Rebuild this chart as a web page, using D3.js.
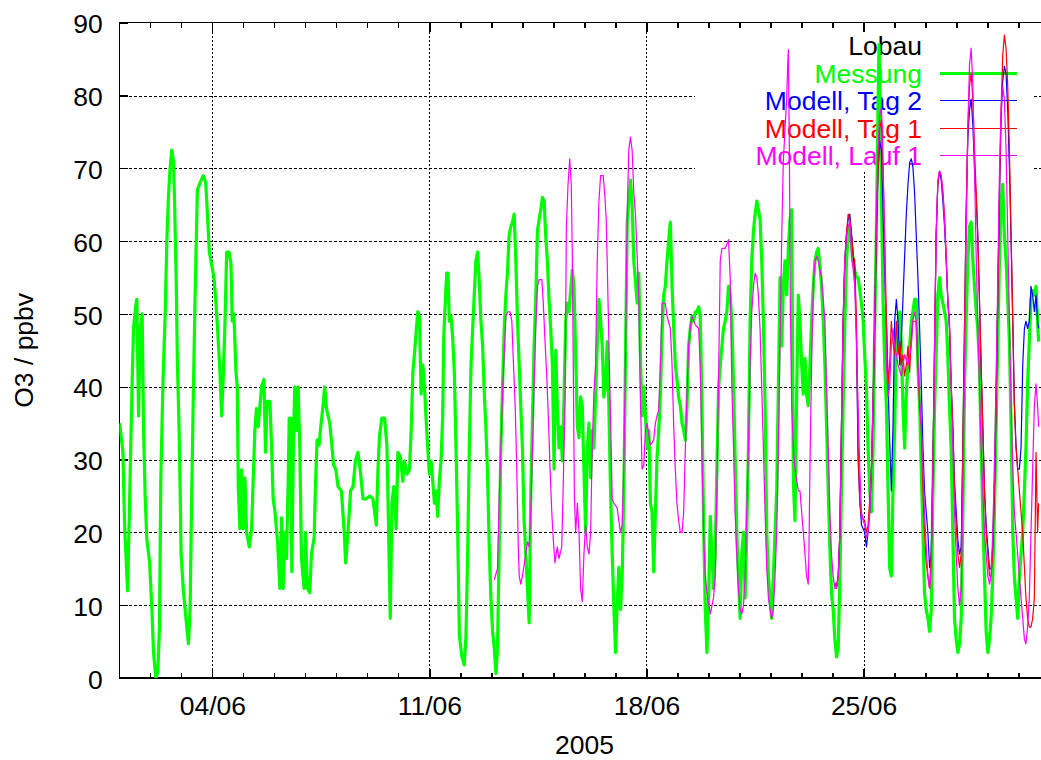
<!DOCTYPE html>
<html>
<head>
<meta charset="utf-8">
<script src="https://cdn.jsdelivr.net/npm/d3@7"></script>
<style>
  html, body { margin: 0; padding: 0; background: #fff; }
  svg { display: block; }
  text { font-family: "Liberation Sans", Arial, Helvetica, sans-serif; font-size: 26.5px; fill: #000; }
</style>
</head>
<body>
<svg id="chart" width="1041" height="760"></svg>
<script>
// Ozone at Lobau, June 2005: measurement vs. model runs (hourly values, ppbv)
const startDate = "2005-06-01";
const endDate = "2005-07-01";
const majorTickDates = ["2005-06-04", "2005-06-11", "2005-06-18", "2005-06-25"];
const yTickValues = [0, 10, 20, 30, 40, 50, 60, 70, 80, 90];
const xAxisTitle = "2005";
const yAxisTitle = "O3 / ppbv";
const keyTitle = "Lobau";
const seriesNames = ["Messung", "Modell, Tag 2", "Modell, Tag 1", "Modell, Lauf 1"];
const seriesColors = ["#00ff00", "#0000ff", "#ff0000", "#ff00ff"];

// [hours since 01/06 00:00, O3 in ppbv]
const messung = [
[0.3,35],[2.8,31],[4.1,21],[6.4,12],[7.7,22],[9,33],[10,41],[11,48],[12.6,51],[13.6,52],[14.9,36],[16.2,48],[17.7,50],[18.8,34],[20,25],[21.3,19],[23.4,16],[25.2,9.5],[26.5,3.5],[28.3,0],[29.8,0.8],[31.1,7],[32.1,27],[33.7,40],[35.5,50],[36.8,60],[38,66],[39.3,70],[40.6,72.5],[41.9,71],[42.7,66],[44,55],[45,43],[46.3,34],[47.1,26],[47.8,17],[49.6,12],[51.7,8],[53.5,4.7],[54.8,9.4],[56.1,26],[57.4,40],[58.6,52],[60.4,67],[62.5,68],[65,69],[66.9,68],[68.1,64],[69.7,58.5],[71.5,56.7],[73.3,55],[74.8,51.5],[75.9,48.5],[77.9,42],[79.2,36],[80.5,41.5],[81.8,49],[83.1,58.5],[84.9,58.5],[86.4,57],[87.4,49],[88.7,50],[90.3,42],[91.3,40],[92.1,26],[93.4,20.5],[94.6,28.6],[95.9,20.5],[97.2,27.5],[98.5,20],[100.6,18],[102.4,20.5],[103.6,27],[104.9,34],[106.2,37],[107.5,34.5],[110.1,40],[111.9,41],[113.2,31],[114.4,38],[116.6,38],[117.8,32],
[119.1,24.5],[120.4,23],[122.5,18.7],[124.3,12.3],[125.6,22],[126.8,12.3],[128.1,20],[129.4,16.4],[130.7,27],[131.5,35.7],[132.8,35.7],[133.5,14.6],[134.8,33],[135.8,40],[137.1,34],[138.4,40],[139.7,31.6],[141,16.4],[143,12.3],[144.1,20],[145.6,12.3],[147.4,11.7],[148.7,17],[150.8,19.3],[151.8,26.3],[153.1,32.7],[154.6,32],[155.9,34.5],[157.7,37.4],[159,40],[160.3,37],[162.9,35],[164.1,32.7],[165.9,29.2],[167.5,28.7],[169.3,26.3],[171.9,25.7],[173.9,20.5],[175.2,15.8],[177,20],[179,25.7],[180.9,26.3],[182.7,29.8],[184.7,31],[186.8,28],[188.6,24.6],[191.1,24.6],[193.7,25],[196.3,24.6],[198.9,21],[200.2,28.7],[201.4,33.3],[203.2,35.7],[205.3,35.7],[207.1,32],[208.4,20.5],[209.7,8.2],[211,24],[212.5,26.3],[214.3,20.5],[215.6,31],[217.6,30.4],[219.4,27],[220.7,29.8],[222.8,28],[224.6,28.7],[225.9,34],[227.2,42],[228.4,44.4],[229.7,47.4],[231,50.3],[232.3,49.7],[233.6,39],[234.9,43],
[236.2,40],[237.4,35.7],[238.7,31.6],[240,28],[241.3,29.8],[242.6,27],[243.9,24],[245.2,25.7],[246.4,22.2],[247.7,27],[249,29.8],[250.3,36],[251.1,46.8],[252.4,52],[253.4,55.6],[254.4,55.6],[255.4,49],[256.7,49.7],[258,46.8],[259.3,42],[260.6,31.6],[261.9,20],[263.2,5.8],[265.2,2.9],[267,1.8],[268.3,5.8],[269.6,17],[270.9,31.6],[272.2,43],[273.5,48],[274.7,52.6],[276,57.3],[277.3,58.5],[278.6,54.4],[279.9,49],[281.2,45.6],[282.5,39],[283.7,34.5],[285,28],[286.3,18.1],[287.6,11],[288.9,6.4],[290.2,4.1],[291.5,0.6],[292.7,4.1],[294,17.5],[295.3,31.6],[296.6,40],[297.9,48],[299.2,52.6],[300.5,56],[301.7,60.8],[303,62],[304.3,62.6],[305.6,63.7],[306.9,57.3],[308.2,49],[309.5,43],[310.7,37.4],[312,31.6],[313.3,21.6],[314.6,17],[315.9,12.3],[317.2,7.6],[318.5,25.7],[319.8,35.7],[321,45.6],[322.3,52],[323.6,61.4],[324.9,63],[326.2,64.3],[327.5,66],[328.8,65.5],[330,60.8],[331.3,57.3],[332.6,52],[333.9,48],[335.2,43],[336.5,28.7],[337.8,45],[339,37.4],[340.3,31.6],[341.6,34.5],[342.9,29.8],[344.2,38.6],[345.5,49],[346.8,51.5],[348,50.3],[349.3,53.2],[350.6,56],[351.9,53.8],[353.2,44.4],[354.5,34.5],
[355.8,33],[357,38.6],[358.3,37.4],[359.6,28.7],[360.9,20],[362.2,31.6],[363.5,35],[364.8,27.5],[366,34],[367.3,31.6],[368.6,38.6],[369.9,45.6],[371.2,52],[372.5,49],[373.8,45.6],[375,38.6],[376.3,40],[377.6,46.2],[378.9,37.4],[380.2,25.7],[381.5,17],[382.8,9.4],[384.1,3.5],[385.3,10],[386.6,15.2],[387.9,9.4],[389.2,14],[390.5,25.7],[391.8,44.4],[393.1,62.6],[394.3,65.5],[395.6,68.4],[396.9,65],[398.2,57.3],[399.5,54.4],[400.8,51.5],[402.1,55.6],[403.3,44.4],[404.6,36],[405.9,40],[407.2,36],[408.5,31.6],[409.8,34],[411.1,24],[412.3,22.8],[413.6,14.6],[414.9,22.8],[416.2,30.4],[417.5,34],[418.8,39],[420.1,47.4],[421.3,52.6],[422.6,53.8],[423.9,57.3],[425.2,60.2],[426.5,62.6],[427.8,53.8],[429.1,48],[430.3,43],[431.6,41],[432.9,38.6],[434.2,37.4],[435.5,35],[436.8,34],[438.1,32.7],[439.4,37.4],[440.6,45.6],[441.9,48],[443.2,49.7],[444.5,49],[445.8,50.3],[447.1,50.3],[448.4,51],[449.6,49.7],[450.9,38.6],[452.2,21.6],[453.5,9.4],[454.8,3.5],[456.1,11],[457.4,22.2],[458.6,17],[459.9,12.3],[461.2,17],[462.5,28.7],[463.8,39.8],[465.1,43],[466.4,45.6],[467.6,48],[468.9,49],[470.2,50.3],[471.5,53.8],[472.8,52.6],
[474.1,49],[475.4,40],[476.6,30.4],[477.9,20],[479.2,14],[480.5,8.2],[481.8,17],[483.1,20],[484.4,11],[485.6,20],[486.9,31.6],[488.2,49],[489.5,57.3],[490.8,61.4],[492.1,63.7],[493.4,65.5],[494.6,64.3],[495.9,63],[497.2,57.3],[498.5,49],[499.8,37.4],[501.1,20],[502.4,14],[503.7,10.5],[504.9,8.2],[506.2,14],[507.5,20],[508.8,25.7],[510.1,40],[511.4,55],[512.7,45.6],[513.9,53.8],[515.2,57.3],[516.5,52.6],[517.8,59],[519.1,63],[520.4,64.3],[521.7,27],[522.9,21.6],[524.2,38.6],[525.5,52.6],[526.8,49],[528.1,43],[529.4,39],[530.7,43.9],[531.9,39],[533.2,37.4],[534.5,43],[535.8,49],[537.1,53.8],[538.4,57.3],[539.7,58.5],[540.9,59],[542.2,56.7],[543.5,53.8],[544.8,49],[546.1,43],[547.4,34.5],[548.7,25.7],[549.9,18],[551.2,11.7],[552.5,9.4],[553.8,5.3],[555.1,2.9],[556.4,4.1],[557.7,14],[558.9,25.7],[560.2,37.4],[561.5,49],[562.8,57.3],[564.1,60.8],[565.4,62],[566.7,59.6],[568,57.3],[569.2,56],[570.5,55],[571.8,55],
[574.4,51.5],[575.7,49],[576.9,44.4],[578.2,40],[579.5,31.6],[580.8,25.7],[582.1,22.8],[583.4,31.6],[584.7,49],[585.9,60.8],[587.2,78.4],[588,87],[588.8,78.4],[589.8,66.7],[591.1,52],[592.4,43],[593.7,37.4],[595,25.7],[596.2,15.2],[597.5,14],[598.8,25.7],[600.1,34.5],[601.4,46.2],[602.7,49],[604,50.3],[605.2,45.6],[606.5,37.4],[607.8,31.6],[609.1,39],[610.4,43],[611.7,45.6],[613,49],[614.2,50.3],[615.5,52],[616.8,52],[618.1,43],[619.4,37.4],[620.7,28.7],[622,20],[623.2,11.7],[624.5,9.4],[625.8,8.2],[627.1,6.4],[628.4,9.4],[629.7,25.7],[631,37.4],[632.2,44.4],[633.5,52.6],[634.8,55],[636.1,52.6],[637.4,51.5],[638.7,50.3],[640,49],[641.2,44.4],[642.5,37.4],[643.8,31.6],[645.1,20],
[646.4,8.2],[647.7,5.3],[649,3.5],[650.3,4.7],[651.6,8.2],[652.9,22.8],[654.2,40.4],[655.4,49],[656.7,57.3],[658,62],[659.3,62.6],[660.6,57.3],[661.9,53.8],[663.2,50.3],[664.4,48],[665.7,43],[667,31.6],[668.3,22.8],[669.6,14],[670.9,6.4],[672.2,3.5],[673.5,5.3],[674.7,8.2],[676,14],[677.3,22.8],[678.6,34.5],[679.9,46.2],[681.2,57.3],[682.5,65.5],[683.7,67.8],[685,60.8],[686.3,57.3],[687.6,52],[688.9,46.2],[690.2,34.5],[691.5,20],[692.7,14],[694,11],[695.3,8.2],[696.6,14],[697.9,17],[699.2,20],[700.5,25.7],[701.7,31.6],[703,40.4],[704.3,46.2],[705.6,52],[706.9,53.2],[708.2,52.6],[709.5,53.8],[710.7,49],[711.5,46.2]
];

const modellTag2 = [
[553.8,13],[555.1,12.5],[556.4,14],[557.7,20],[558.9,34.5],[560.2,49],[561.5,57.3],[562.8,61],[564.1,63],[565.4,63.7],[566.7,61],[568,58],[569.2,56],[570.5,47],[571.8,30],[573.1,24.6],[574.4,21],[576.9,20],[578.2,18],[579.5,20],[580.8,22.8],[582.1,28.7],[583.4,37.4],[584.7,49],[585.9,60.8],[587.2,69.6],[588.5,73.7],[589.8,72.5],[591.1,63.7],[592.4,55],[593.7,49],[595,40.4],[596.2,32.7],[597.5,25.7],[598.8,34.5],[600.1,49],[601.4,52],[602.7,49],[604,43],[605.2,46.2],[606.5,52],[607.8,57.9],[609.1,63.7],[610.4,67.8],[611.7,70.8],[613,71.3],[614.2,70.2],[615.5,66.7],[616.8,60.8],[618.1,55],[619.4,48],[620.7,40.4],[622,31.6],[623.2,25.7],[624.5,22.8],[625.8,20],[627.1,15.2],[628.4,17],[629.7,28.7],[631,46.2],[632.2,60.8],[633.5,67.8],[634.8,69.6],[636.1,68.4],[637.4,65.5],[638.7,62],[640,57.3],[641.2,52],[642.5,48],[643.8,40.4],[645.1,34.5],[646.4,27],[647.7,23],[649,19],[650.3,17],[651.6,18],[652.9,31.6],[654.2,49],[655.4,63.7],[656.7,74],[658,78],[659.3,79.5],[660.6,76],[661.9,70],[663.2,66],[664.4,60.8],[665.7,52],[667,43],[668.3,34.5],[669.6,26],[670.9,21],[672.2,18],[673.5,15],[674.7,15],[676,18],[677.3,25.7],[678.6,37.4],[679.9,52],[681.2,66],[682.5,77],[683.7,82],[685,84],[686.3,83],[687.6,78],[688.9,70],[690.2,60],[691.5,49],[692.7,38],[694,32],[695.3,28.7],[696.6,28.7],[697.9,31.6],[699.2,43],[700.5,48],[701.7,49],[703,48],[704.3,49],[705.6,53.8],[706.9,52.6],[708.2,50.3],[709.5,52.6],[710.7,49],[711.5,48]
];

const modellTag1 = [
[553.8,13],[555.1,12.5],[556.4,14],[557.7,20],[558.9,34.5],[560.2,49],[561.5,57.3],[562.8,61],[564.1,63.7],[565.4,63],[566.7,60.8],[568,58],[569.2,57.3],[570.5,49],[571.8,31.6],[573.1,24],[574.4,22.2],[576.9,21.6],[578.2,20],[579.5,21],[580.8,24.6],[582.1,28.7],[583.4,37.4],[584.7,49],[585.9,60.8],[587.2,69.6],[588.5,75.4],[589.8,76.6],[591.1,69.6],[592.4,60.8],[593.7,49],[595,40.4],[596.2,43],[597.5,49],[598.8,46.2],[600.1,44.4],[601.4,49],[602.7,44.4],[604,46.2],[605.2,43],[606.5,44.4],[607.8,41.5],[609.1,43],[610.4,45.6],[611.7,42],[613,46.8],[614.2,49],[616.8,49],[618.1,43],[619.4,37.4],[620.7,34.5],[622,25.7],[623.2,20],[624.5,15.8],[625.8,14],[627.1,12.3],[628.4,17],[629.7,28.7],[631,46.2],[632.2,60.8],[633.5,67.8],[634.8,69.6],[636.1,69],[637.4,66.7],[638.7,63.7],[640,57.9],[641.2,52],[642.5,49],[643.8,40.4],[645.1,34.5],[646.4,25.7],[647.7,21],[649,17],[650.3,15.2],[651.6,17],[652.9,31.6],[654.2,49],[655.4,63.7],[656.7,75.4],[658,81.3],[659.3,83],[660.6,79.5],[661.9,72.5],[663.2,66.7],[664.4,60.8],[665.7,52],[667,43],[668.3,34.5],[669.6,25.7],[670.9,20],[672.2,17],[673.5,14],[674.7,14],[676,17],[677.3,25.7],[678.6,37.4],[679.9,52],[681.2,66.7],[682.5,78.4],[683.7,85.4],[685,88.3],[686.3,86.5],[687.6,81.3],[688.9,72.5],[690.2,60.8],[691.5,49],[692.7,37.4],[694,31.6],[695.3,28.7],[696.6,25.7],[697.9,22.8],[699.2,20],[700.5,15.2],[701.7,11],[703,8.2],[704.3,7],[705.6,7],[706.9,8.2],[708.2,11],[709.5,31],[710.7,20],[711.5,24]
];

const modellLauf1 = [
[290.2,13.5],[292.7,15],[294,24.6],[295.3,31.6],[296.6,39],[297.9,44.4],[299.2,49.7],[300.7,50.3],[302.3,50.3],[303.8,49],[305.1,43],[306.4,37.4],[307.7,28],[308.7,18.7],[309.5,14],[310.7,12.9],[312,14],[314.1,16.4],[315.9,18.7],[317.2,18],[318.5,23.4],[319.8,31.6],[321,39.8],[322.3,48],[323.6,53.8],[324.9,54.7],[327,54.7],[328,52],[329.5,46.2],[330.8,41.5],[332.1,35.7],[333.4,28.7],[334.7,22.8],[336,18.7],[337.2,15.8],[339,18],[340.3,16.4],[342.4,18],[343.4,25],[345,38.6],[346,62],[347.3,67.8],[348.6,71.3],[349.8,67.8],[350.6,58],[351.4,42],[352.2,25],[353.2,20],[354.5,24],[355.8,20],[357,12.3],[358.3,10.5],[359.6,17],[360.9,21],[362.2,18],[363.5,17],[364.8,20],[366,31.6],[367.3,39],[368.6,43],[369.9,57.3],[371.2,65.5],[372.5,69],[374.5,69],[375.6,66.7],[376.8,63.2],[377.6,57.3],[378.9,46.2],[380.2,35.7],[381.5,24.6],[382.8,24],[385.3,23.4],[386.6,21.6],[387.9,20],[389.2,21],[390.5,29.2],[391.8,45],[393.1,63.7],[394.3,72.5],[395.6,74.3],[396.9,72.5],[398.2,66.7],[399.5,63.7],[400.8,57.9],[402.1,52],[403.3,38.6],[404.6,28.7],[405.9,29.2],[407.2,34],[408.5,35],[409.8,33.3],[411.1,32],[413.6,32.7],[414.9,35],[416.2,36],[417.5,36.8],[418.8,43],[420.1,51.5],[422.6,51.5],[423.9,49.7],[426.5,48],[427.8,43],[429.1,34.5],[430.3,28.7],[431.6,24],[432.9,21.6],[434.2,20],[435.5,20],[436.8,22.8],[438.1,31.6],[439.4,39],[440.6,45.6],[441.9,48],[443.2,49.7],[445.8,48.5],[448.4,48],[449.6,43],[450.9,31.6],[452.2,20],[453.5,14],[454.8,11.7],[457.4,8.8],[459.9,11],[461.2,14],[462.5,25.7],[463.8,41],[465.1,57.3],[466.4,59],[468.9,59],[471.5,60.2],[472.8,55],[474.1,40],[475.4,31.6],[476.6,22.8],[477.9,17],[479.2,12.3],[480.5,9.4],[481.8,8.8],[483.1,10],[484.4,14],[485.6,22.8],[486.9,31.6],[488.2,43],[489.5,50.3],[490.8,53.8],[492.1,55.6],[493.4,55],[494.6,52.6],[495.9,48],[497.2,40],[498.5,31.6],[499.8,22.8],[501.1,15.2],[502.4,11],[503.7,9.4],[504.9,8.2],[506.2,9.4],[507.5,14],[508.8,20],[510.1,31.6],[511.4,46.2],[512.7,60.8],[513.9,70.8],[515.2,75.4],[516.5,79.5],[517.3,84.2],[517.8,86.3],[518.6,72.5],[519.3,52],[520.4,37.4],[521.7,31.6],[522.9,28.7],[525.5,25.7],[526.8,25.7],[528.1,22.8],[529.4,20],[530.7,17],[531.9,14],[533.2,12.9],[533.7,17],[534.5,28.7],[535.8,43],[537.1,53.8],[538.4,57.3],[539.7,57.9],[540.9,57.3],[543.5,55],[544.8,52],[546.1,49],[547.4,39.8],[548.7,31.6],[549.9,22.8],[551.2,17],[552.5,14],[553.8,12.3],[555.1,12.3],[556.4,14],[557.7,20],[558.9,34.5],[560.2,49],[561.5,57.3],[562.8,60.8],[564.1,62],[565.4,62.6],[566.7,57.9],[568,56],[569.2,53.8],[570.5,46.2],[571.8,37.4],[573.1,28.7],[574.4,22.8],[575.7,21.6],[576.9,21],[578.2,19.3],[579.5,20],[580.8,22.8],[582.1,28.7],[583.4,38.6],[584.7,50.3],[585.9,63.7],[587.2,72.5],[588.5,77.2],[589.8,78.4],[590.6,75.4],[591.9,63.7],[592.9,52],[593.7,43],[595,38.6],[596.2,40],[597.5,45.6],[598.8,48],[600.1,45.6],[601.4,44.4],[602.7,43],[605.2,41.5],[607.8,44.4],[610.4,43],[613,45.6],[614.2,49],[615.5,50.3],[616.8,49],[618.1,43],[619.4,38.6],[620.7,34.5],[622,28.7],[623.2,22.8],[624.5,18],[625.8,14],[627.1,12.3],[628.4,15.2],[629.7,28.7],[631,46.2],[632.2,60.8],[633.5,68.4],[634.8,69.6],[636.1,69],[637.4,66.7],[638.7,62.6],[640,57.3],[641.2,52],[642.5,48],[643.8,40.4],[645.1,31.6],[646.4,22.8],[647.7,17],[649,12.3],[650.3,10],[651.6,12.3],[652.9,25.7],[654.2,43],[655.4,60.8],[656.7,75.4],[658,84.2],[659.3,86.5],[660.6,81.3],[661.9,69.6],[663.2,57.9],[664.4,49],[665.7,40.4],[667,31.6],[668.3,25.7],[669.6,20],[670.9,17],[672.2,14],[673.5,12.9],[674.7,14],[676,20],[677.3,28.7],[678.6,40.4],[679.9,55],[681.2,69.6],[682.5,78.4],[683.7,81.3],[685,79.5],[686.3,72.5],[687.6,60.8],[688.9,49],[690.2,37.4],[691.5,28.7],[692.7,22.8],[694,20],[695.3,17],[696.6,14],[697.9,11],[699.2,8.2],[700.5,5.3],[701.7,4.7],[703,7],[704.3,11],[705.6,20],[706.9,28.7],[708.2,37.4],[709.5,40.4],[710.7,37.4],[711.5,34.5]
];

// ---- layout ----
const plot = { left: 119.3, right: 1049.6, top: 22.7, bottom: 678 };
const keyBox = { x0: 695, x1: 1032, y0: plot.top + 1, y1: 172 };

const parseDay = d3.utcParse("%Y-%m-%d");
const t0 = parseDay(startDate);
const t1 = parseDay(endDate);
const atHour = h => new Date(t0.getTime() + h * 3600e3);

const x = d3.scaleUtc().domain([t0, t1]).range([plot.left, plot.right]);
const y = d3.scaleLinear().domain([0, 90]).range([plot.bottom, plot.top]);

const svg = d3.select("#chart");
svg.append("rect").attr("width", 1041).attr("height", 760).attr("fill", "#fff");

const plotW = plot.right - plot.left;
const plotH = plot.bottom - plot.top;
const majorDates = majorTickDates.map(parseDay);
const dayTicks = d3.utcDay.range(t0, d3.utcDay.offset(t1, 1));

// ---- grid ----
const gridY = svg.append("g")
  .attr("transform", `translate(${plot.left},0)`)
  .call(d3.axisLeft(y).tickValues(yTickValues.filter(v => v > 0 && v < 90)).tickSize(-plotW).tickFormat(""));
gridY.select(".domain").remove();
gridY.selectAll("line").attr("stroke", "#000").attr("stroke-width", 1)
  .attr("stroke-dasharray", "3,2").attr("shape-rendering", "crispEdges");

const gridX = svg.append("g")
  .attr("transform", `translate(0,${plot.bottom})`)
  .call(d3.axisBottom(x).tickValues(majorDates).tickSize(-plotH).tickFormat(""));
gridX.select(".domain").remove();
gridX.selectAll("line").attr("stroke", "#000").attr("stroke-width", 1)
  .attr("stroke-dasharray", "2,2").attr("shape-rendering", "crispEdges");

// the key area keeps the grid out
svg.append("rect")
  .attr("x", keyBox.x0).attr("y", keyBox.y0)
  .attr("width", keyBox.x1 - keyBox.x0).attr("height", keyBox.y1 - keyBox.y0)
  .attr("fill", "#fff");

// ---- axes (inward ticks) ----
function styleAxis(g) {
  g.select(".domain").remove();
  g.attr("font-size", null).attr("font-family", null);
  g.selectAll("line").attr("stroke", "#000").attr("stroke-width", 1.2).attr("shape-rendering", "crispEdges");
}

// daily minor ticks, bottom and top
svg.append("g").attr("transform", `translate(0,${plot.bottom})`)
  .call(d3.axisBottom(x).tickValues(dayTicks).tickSize(-5).tickFormat("")).call(styleAxis);
svg.append("g").attr("transform", `translate(0,${plot.top})`)
  .call(d3.axisTop(x).tickValues(dayTicks).tickSize(-5).tickFormat("")).call(styleAxis);

// weekly major ticks with date labels
const xAxis = svg.append("g").attr("transform", `translate(0,${plot.bottom})`)
  .call(d3.axisBottom(x).tickValues(majorDates).tickSize(-9).tickFormat(d3.utcFormat("%d/%m")))
  .call(styleAxis);
xAxis.selectAll("text").attr("y", 37).attr("dy", null);
svg.append("g").attr("transform", `translate(0,${plot.top})`)
  .call(d3.axisTop(x).tickValues(majorDates).tickSize(-9).tickFormat("")).call(styleAxis);

// y axis
const yAxis = svg.append("g").attr("transform", `translate(${plot.left},0)`)
  .call(d3.axisLeft(y).tickValues(yTickValues).tickSize(-9).tickFormat(d3.format("d")))
  .call(styleAxis);
yAxis.selectAll("text").attr("x", -16.6).attr("dy", "0.38em");

// frame
svg.append("rect")
  .attr("x", plot.left).attr("y", plot.top)
  .attr("width", plotW).attr("height", plotH)
  .attr("fill", "none").attr("stroke", "#000").attr("stroke-width", 1.5)
  .attr("shape-rendering", "crispEdges");

// axis titles
svg.append("text")
  .attr("x", (plot.left + plot.right) / 2).attr("y", 754)
  .attr("text-anchor", "middle").text(xAxisTitle);
svg.append("text")
  .attr("transform", `translate(33,${(plot.top + plot.bottom) / 2}) rotate(-90)`)
  .attr("text-anchor", "middle").text(yAxisTitle);

// ---- key ----
const key = svg.append("g");
const keyTextX = 922;
const keyLine = [940, 1017];
const keyRowY = [82.5, 110, 137.5, 165];
key.append("text").attr("x", keyTextX).attr("y", 55.3).attr("text-anchor", "end").text(keyTitle);
seriesNames.forEach((name, i) => {
  key.append("text").attr("x", keyTextX).attr("y", keyRowY[i])
    .attr("text-anchor", "end").style("fill", seriesColors[i]).text(name);
  key.append("line")
    .attr("x1", keyLine[0]).attr("x2", keyLine[1])
    .attr("y1", keyRowY[i] - 9.2).attr("y2", keyRowY[i] - 9.2)
    .attr("stroke", seriesColors[i]).attr("stroke-width", i === 0 ? 3.5 : 1.3)
    .attr("shape-rendering", "crispEdges");
});

// ---- series ----
svg.append("clipPath").attr("id", "plot-clip")
  .append("rect").attr("x", plot.left).attr("y", plot.top).attr("width", plotW).attr("height", plotH);

const line = d3.line().x(d => x(atHour(d[0]))).y(d => y(d[1]));
const series = [messung, modellTag2, modellTag1, modellLauf1];
const widths = [3.2, 1.2, 1.2, 1.2];
const layer = svg.append("g").attr("clip-path", "url(#plot-clip)");
series.forEach((data, i) => {
  layer.append("path")
    .datum(data)
    .attr("d", line)
    .attr("fill", "none")
    .attr("stroke", seriesColors[i])
    .attr("stroke-width", widths[i])
    .attr("stroke-linejoin", "round");
});
</script>
</body>
</html>
